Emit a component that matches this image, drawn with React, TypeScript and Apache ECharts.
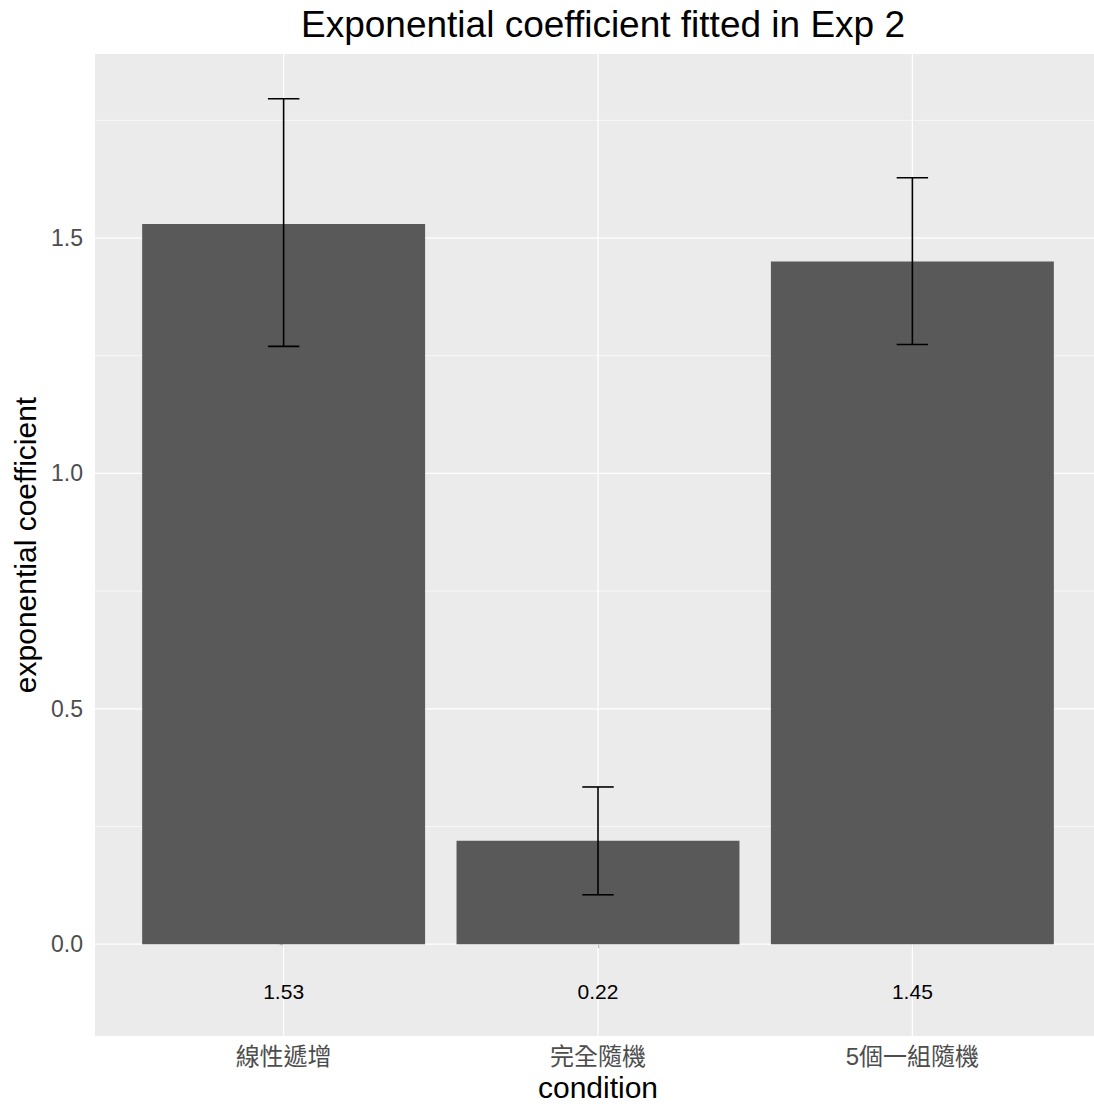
import React, { useEffect, useRef } from "react";
import * as echarts from "echarts";

// Fitted exponential coefficient per condition, with its error-bar limits
const categories = ["線性遞增", "完全隨機", "5個一組隨機"];
const means = [1.53, 0.22, 1.45];
const lowers = [1.27, 0.105, 1.274];
const uppers = [1.796, 0.334, 1.628];

// Value labels sit below the baseline at this y value
const labelY = -0.1;

// Axis scale and gridlines
const yMajorTicks = [0, 0.5, 1.0, 1.5];
const yMinorTicks = [0.25, 0.75, 1.25, 1.75];
const xTicks = [0, 1, 2];
const yMin = -0.195;
const yMax = 1.891;
const xMin = -0.6;
const xMax = 2.6;

const LATIN = "'Liberation Sans', Arial, sans-serif";
const MIXED = "'Liberation Sans', 'Noto Sans CJK TC', sans-serif";

export default function App() {
  const ref = useRef<HTMLDivElement>(null);

  useEffect(() => {
    if (!ref.current) return;
    const chart = echarts.init(ref.current, null, { renderer: "svg" });

    const option: any = {
      animation: false,
      backgroundColor: "#ffffff",
      title: {
        text: "Exponential coefficient fitted in Exp 2",
        left: 598,
        top: 1,
        textAlign: "center",
        textStyle: {
          fontFamily: LATIN,
          fontSize: 37,
          fontWeight: "normal",
          color: "#000000",
        },
      },
      grid: {
        left: 95,
        top: 54,
        width: 1006,
        height: 982,
        show: true,
        backgroundColor: "#EBEBEB",
        borderWidth: 0,
        containLabel: false,
        outerBoundsMode: "none",
      },
      xAxis: {
        type: "value",
        min: xMin,
        max: xMax,
        name: "condition",
        nameLocation: "middle",
        nameGap: 35,
        nameTextStyle: { fontFamily: LATIN, fontSize: 30, color: "#000000" },
        axisLine: { show: false },
        splitLine: { show: false },
        axisTick: {
          show: true,
          customValues: xTicks,
          length: 4,
          lineStyle: { color: "#333333", width: 1.1 },
        },
        axisLabel: {
          customValues: xTicks,
          formatter: (v: number) => categories[Math.round(v)] ?? "",
          fontFamily: MIXED,
          fontSize: 24,
          color: "#4D4D4D",
          margin: 8,
        },
      },
      yAxis: {
        type: "value",
        min: yMin,
        max: yMax,
        name: "exponential coefficient",
        nameLocation: "middle",
        nameRotate: 90,
        nameGap: 45,
        nameTextStyle: { fontFamily: LATIN, fontSize: 30, color: "#000000" },
        axisLine: { show: false },
        splitLine: { show: false },
        axisTick: {
          show: true,
          customValues: yMajorTicks,
          length: 4,
          lineStyle: { color: "#333333", width: 1.1 },
        },
        axisLabel: {
          customValues: yMajorTicks,
          formatter: (v: number) => v.toFixed(1),
          fontFamily: LATIN,
          fontSize: 23,
          color: "#4D4D4D",
          margin: 12,
        },
      },
      series: [
        // horizontal gridlines (minor = 0, major = 1)
        {
          type: "custom",
          silent: true,
          z: 1,
          data: [
            ...yMinorTicks.map((v) => [0, v, 0]),
            ...yMajorTicks.map((v) => [0, v, 1]),
          ],
          renderItem: (params: any, api: any) => {
            const cs = params.coordSys;
            const y = api.coord([0, api.value(1)])[1];
            const major = api.value(2) === 1;
            return {
              type: "line",
              shape: { x1: cs.x, y1: y, x2: cs.x + cs.width, y2: y },
              style: { stroke: "#FFFFFF", lineWidth: major ? 1.3 : 0.65 },
            };
          },
        },
        // vertical gridlines at each category
        {
          type: "custom",
          silent: true,
          z: 1,
          data: xTicks.map((v) => [v, 0]),
          renderItem: (params: any, api: any) => {
            const cs = params.coordSys;
            const x = api.coord([api.value(0), 0])[0];
            return {
              type: "line",
              shape: { x1: x, y1: cs.y, x2: x, y2: cs.y + cs.height },
              style: { stroke: "#FFFFFF", lineWidth: 1.3 },
            };
          },
        },
        // bars
        {
          type: "custom",
          z: 2,
          data: means.map((m, i) => [i, m]),
          renderItem: (_params: any, api: any) => {
            const x = api.value(0);
            const v = api.value(1);
            const tl = api.coord([x - 0.45, v]);
            const br = api.coord([x + 0.45, 0]);
            return {
              type: "rect",
              shape: { x: tl[0], y: tl[1], width: br[0] - tl[0], height: br[1] - tl[1] },
              style: { fill: "#595959" },
            };
          },
        },
        // error bars
        {
          type: "custom",
          z: 3,
          data: means.map((_m, i) => [i, lowers[i], uppers[i]]),
          renderItem: (_params: any, api: any) => {
            const x = api.value(0);
            const lo = api.value(1);
            const hi = api.value(2);
            const top = api.coord([x, hi]);
            const bot = api.coord([x, lo]);
            const tL = api.coord([x - 0.05, hi]);
            const tR = api.coord([x + 0.05, hi]);
            const bL = api.coord([x - 0.05, lo]);
            const bR = api.coord([x + 0.05, lo]);
            const st = { stroke: "#000000", lineWidth: 1.6 };
            return {
              type: "group",
              children: [
                { type: "line", shape: { x1: top[0], y1: top[1], x2: bot[0], y2: bot[1] }, style: st },
                { type: "line", shape: { x1: tL[0], y1: tL[1], x2: tR[0], y2: tR[1] }, style: st },
                { type: "line", shape: { x1: bL[0], y1: bL[1], x2: bR[0], y2: bR[1] }, style: st },
              ],
            };
          },
        },
        // value labels below the baseline
        {
          type: "custom",
          z: 4,
          data: means.map((m, i) => [i, labelY, m]),
          renderItem: (_params: any, api: any) => {
            const p = api.coord([api.value(0), api.value(1)]);
            return {
              type: "text",
              x: p[0],
              y: p[1],
              style: {
                text: Number(api.value(2)).toFixed(2),
                textAlign: "center",
                textVerticalAlign: "middle",
                fill: "#000000",
                fontSize: 21,
                fontFamily: LATIN,
              },
            };
          },
        },
      ],
    };

    chart.setOption(option);
    return () => chart.dispose();
  }, []);

  return (
    <div
      ref={ref}
      style={{ position: "absolute", left: 0, top: 0, width: 1094, height: 1106 }}
    />
  );
}
